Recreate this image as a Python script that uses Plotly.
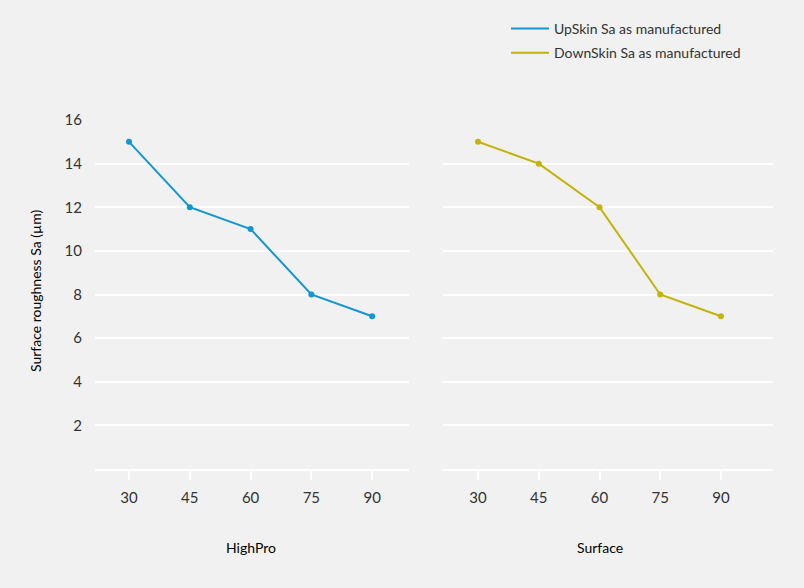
import plotly.graph_objects as go

angles = [30, 45, 60, 75, 90]
upskin = [15, 12, 11, 8, 7]
downskin = [15, 14, 12, 8, 7]
panel_titles = ["HighPro", "Surface"]
series_names = ["UpSkin Sa as manufactured", "DownSkin Sa as manufactured"]
y_ticks = [2, 4, 6, 8, 10, 12, 14, 16]

BLUE = "#1496d4"
YELLOW = "#c3b30a"
BG = "#f0f1f0"
FONT = "Lato, Roboto, sans-serif"
FS = 15
FS_T = 14
W, H = 804, 588

fig = go.Figure()
for i, (name, vals, color, xa, ya) in enumerate([(series_names[0], upskin, BLUE, "x", "y"),
                                                 (series_names[1], downskin, YELLOW, "x2", "y2")]):
    fig.add_trace(go.Scatter(x=angles, y=vals, mode="lines", name=name, legendgroup=f"g{i}",
                             line=dict(color=color, width=2), xaxis=xa, yaxis=ya))
    fig.add_trace(go.Scatter(x=angles, y=vals, mode="markers", showlegend=False,
                             legendgroup=f"g{i}",
                             marker=dict(size=6, color=color), xaxis=xa, yaxis=ya,
                             hoverinfo="skip"))

ydom = [1 - 469 / H, 1 - 120 / H]
xcommon = dict(tickvals=angles, ticktext=[str(a) for a in angles], showgrid=False,
               zeroline=False, showline=True, linecolor="white", linewidth=2,
               ticks="outside", ticklen=9, tickwidth=2, tickcolor="white", automargin=False,
               tickfont=dict(size=FS, color="#333333", family=FONT), ticklabelstandoff=5)
ycommon = dict(range=[0, 16], tickvals=y_ticks, showgrid=True, gridcolor="white", gridwidth=1.5,
               zeroline=False, showline=False, ticks="", domain=ydom, automargin=False,
               tickfont=dict(size=FS, color="#333333", family=FONT), ticklabelstandoff=12)

fig.update_layout(
    width=W, height=H, margin=dict(l=0, r=0, t=0, b=0, autoexpand=False),
    paper_bgcolor=BG, plot_bgcolor=BG,
    font=dict(family=FONT, color="#333333", size=FS),
    xaxis=dict(domain=[95 / W, 409 / W], range=[21.6, 99.1], **xcommon),
    xaxis2=dict(domain=[443 / W, 773 / W], range=[21.35, 102.85], **xcommon),
    yaxis=dict(anchor="x", **ycommon),
    yaxis2=dict(anchor="x2", showticklabels=False, **ycommon),
    showlegend=True,
    legend=dict(x=506 / W, y=1 - 13 / H, xanchor="left", yanchor="top",
                bgcolor="rgba(0,0,0,0)", font=dict(size=FS_T, color="#333333", family=FONT),
                tracegroupgap=3, itemwidth=38),
)

fig.add_annotation(text="Surface roughness Sa (µm)", textangle=-90, xref="paper", yref="paper",
                   x=35 / W, y=1 - 291 / H, xanchor="center", yanchor="middle", showarrow=False,
                   font=dict(size=FS_T, color="#000000", family=FONT))
for xa, title in zip(["x", "x2"], panel_titles):
    fig.add_annotation(text=title, xref=xa, yref="paper", x=60, y=1 - 547 / H,
                       xanchor="center", yanchor="middle", showarrow=False,
                       font=dict(size=FS_T, color="#000000", family=FONT))

fig.write_html("out.html", config={"displayModeBar": False},
               post_script="document.body.style.margin='0';")
